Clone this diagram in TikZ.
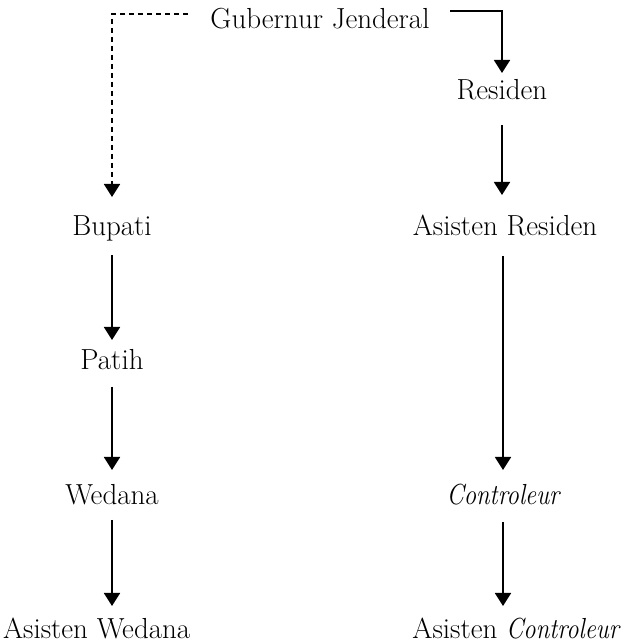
\documentclass[tikz,border=0pt]{standalone}
\usetikzlibrary{arrows.meta,calc}
\newcommand{\itnarrow}[1]{\scalebox{0.85}[1]{\itshape #1}}
\begin{document}
\begin{tikzpicture}[x=1pt,y=1pt,
  lbl/.style={anchor=base,inner sep=0pt,outer sep=0pt,text height=20pt,text depth=6pt,font=\fontsize{29}{34}\selectfont},
  lblb/.style={lbl,text depth=1pt},
  conn/.style={line width=1.8pt,-{Triangle[width=16pt,length=13pt]}},
  dconn/.style={conn,dash pattern=on 5pt off 4pt}]
\useasboundingbox (0,0) rectangle (621,643);
\node[lbl] (gj) at (320,614) {Gubernur Jenderal};
\node[lbl] (res) at (502,543) {Residen};
\node[lbl] (bup) at (112,407) {Bupati};
\node[lbl] (ar) at (505,407) {Asisten Residen};
\node[lbl] (pat) at (112,273) {Patih};
\node[lbl] (wed) at (112,138) {Wedana};
\node[lbl] (con) at (503,138) {\itnarrow{Controleur}};
\node[lblb,anchor=base west] (aw) at (3,5) {Asisten Wedana};
\node[lblb,anchor=base east] (ac) at (619,5) {Asisten \itnarrow{Controleur}};
\coordinate (cr) at (450,632);
\coordinate (cl) at (188,629);
\draw[conn,shorten >=7pt] (cr) -| (res.north);
\draw[dconn,shorten >=19pt] (cl) -| (bup.north);
\draw[conn,shorten <=19pt,shorten >=21pt] (res.south) -- (res.south |- ar.north);
\draw[conn,shorten <=14pt,shorten >=15pt] (con.north |- ar.south) -- (con.north);
\draw[conn,shorten <=11pt,shorten >=12pt] (con.south) -- (con.south |- ac.north);
\draw[conn,shorten <=13pt,shorten >=10pt] (bup.south) -- (pat.north);
\draw[conn,shorten <=11pt,shorten >=15pt] (pat.south) -- (wed.north);
\draw[conn,shorten <=9pt,shorten >=12pt] (wed.south) -- (wed.south |- aw.north);
\end{tikzpicture}
\end{document}
